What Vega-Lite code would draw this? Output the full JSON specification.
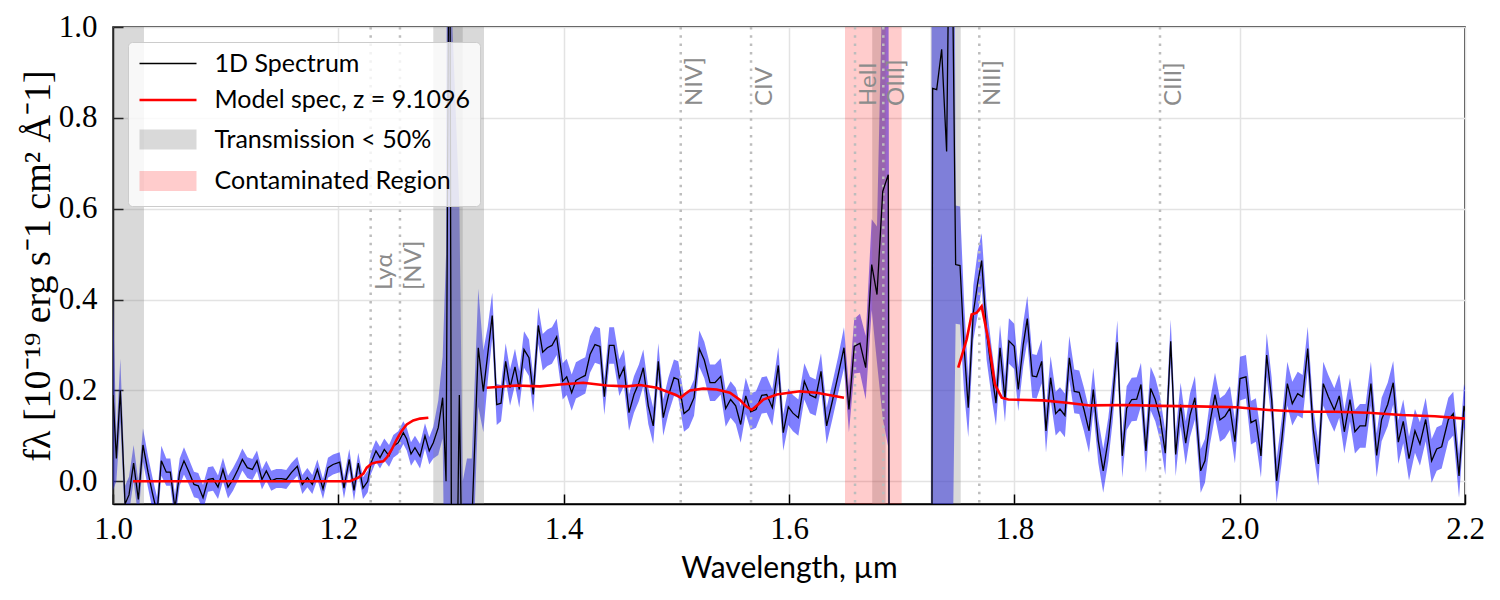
{
  "$schema": "https://vega.github.io/schema/vega-lite/v6.json",
  "width": 1352,
  "height": 477,
  "autosize": {"type": "none"},
  "padding": {"left": 113, "top": 27, "right": 35, "bottom": 96},
  "background": "white",
  "config": {
    "view": {"stroke": "#000000", "strokeWidth": 1.5},
    "axis": {
      "gridColor": "#e3e3e3", "gridWidth": 1.5,
      "domainColor": "#000000", "domainWidth": 1.5,
      "tickColor": "#000000", "tickWidth": 1.5, "tickSize": -10,
      "labelFont": "Liberation Serif", "labelFontSize": 31, "labelColor": "#000000",
      "labelFlush": false, "labelOverlap": false,
      "titleColor": "#000000", "titleFontWeight": "normal"
    },
    "axisX": {"tickCount": 7, "format": ".1f", "labelFont": "Liberation Serif", "labelFontSize": 31, "labelPadding": 20, "titleFont": "Lato", "titleFontSize": 30, "titlePadding": 9},
    "axisY": {"tickCount": 6, "format": ".1f", "labelFont": "Liberation Serif", "labelFontSize": 31, "labelPadding": 26, "titleFont": "Liberation Serif", "titleFontSize": 38, "titlePadding": 1},
    "legend": {
      "orient": "top-left", "offset": 15, "padding": 9,
      "fillColor": "rgba(255,255,255,0.8)", "strokeColor": "#cccccc", "strokeWidth": 1, "cornerRadius": 4,
      "labelFont": "Lato", "labelFontSize": 25, "labelColor": "#000000", "labelLimit": 500,
      "symbolSize": 400, "symbolOffset": 18.5, "labelOffset": 34, "rowPadding": 10.5
    }
  },
  "datasets": {
    "spec": [
      {"w":1.0,"f":0.19,"e":0.21},{"w":1.003,"f":0.05,"e":0.05},{"w":1.0065,"f":0.2,"e":0.07},{"w":1.0107,"f":-0.05,"e":0.04},
      {"w":1.0142,"f":-0.03,"e":0.04},{"w":1.0183,"f":0.04,"e":0.04},{"w":1.0225,"f":-0.04,"e":0.04},{"w":1.0266,"f":0.08,"e":0.037},
      {"w":1.0311,"f":0.02,"e":0.035},{"w":1.0349,"f":-0.025,"e":0.035},{"w":1.0391,"f":-0.07,"e":0.035},{"w":1.0429,"f":0.045,"e":0.033},
      {"w":1.0473,"f":0.02,"e":0.03},{"w":1.0509,"f":0.02,"e":0.03},{"w":1.055,"f":-0.06,"e":0.03},{"w":1.0592,"f":0.02,"e":0.03},
      {"w":1.063,"f":0.045,"e":0.03},{"w":1.0675,"f":0.02,"e":0.028},{"w":1.0719,"f":-0.007,"e":0.028},{"w":1.0757,"f":-0.01,"e":0.028},
      {"w":1.0799,"f":-0.036,"e":0.028},{"w":1.0843,"f":0.004,"e":0.027},{"w":1.0888,"f":0.006,"e":0.027},{"w":1.0932,"f":-0.013,"e":0.026},
      {"w":1.0976,"f":0.026,"e":0.026},{"w":1.1021,"f":-0.013,"e":0.025},{"w":1.1065,"f":0.004,"e":0.025},{"w":1.1109,"f":0.026,"e":0.024},
      {"w":1.1148,"f":0.048,"e":0.024},{"w":1.1192,"f":0.03,"e":0.023},{"w":1.1237,"f":0.026,"e":0.023},{"w":1.1278,"f":0.045,"e":0.023},
      {"w":1.1322,"f":0.004,"e":0.022},{"w":1.1361,"f":0.023,"e":0.022},{"w":1.1405,"f":0.001,"e":0.022},{"w":1.145,"f":0.006,"e":0.021},
      {"w":1.1494,"f":0.006,"e":0.021},{"w":1.1538,"f":0.004,"e":0.021},{"w":1.1583,"f":0.019,"e":0.021},{"w":1.1636,"f":0.033,"e":0.021},
      {"w":1.168,"f":-0.007,"e":0.021},{"w":1.1725,"f":0.008,"e":0.021},{"w":1.1769,"f":-0.007,"e":0.021},{"w":1.1814,"f":0.026,"e":0.022},
      {"w":1.1864,"f":-0.017,"e":0.022},{"w":1.1908,"f":0.03,"e":0.022},{"w":1.1953,"f":0.037,"e":0.022},{"w":1.2012,"f":0.042,"e":0.022},
      {"w":1.205,"f":-0.015,"e":0.023},{"w":1.2097,"f":0.048,"e":0.023},{"w":1.2139,"f":-0.02,"e":0.023},{"w":1.2177,"f":0.04,"e":0.023},
      {"w":1.2219,"f":-0.015,"e":0.024},{"w":1.2261,"f":0.0,"e":0.024},{"w":1.229,"f":0.04,"e":0.024},{"w":1.2334,"f":0.067,"e":0.024},
      {"w":1.237,"f":0.052,"e":0.024},{"w":1.2408,"f":0.07,"e":0.024},{"w":1.245,"f":0.056,"e":0.024},{"w":1.2488,"f":0.077,"e":0.025},
      {"w":1.2532,"f":0.085,"e":0.025},{"w":1.2577,"f":0.107,"e":0.025},{"w":1.2607,"f":0.093,"e":0.025},{"w":1.2645,"f":0.06,"e":0.026},
      {"w":1.268,"f":0.074,"e":0.026},{"w":1.2725,"f":0.055,"e":0.027},{"w":1.2769,"f":0.1,"e":0.028},{"w":1.2807,"f":0.067,"e":0.03},
      {"w":1.2843,"f":0.085,"e":0.035},{"w":1.2887,"f":0.118,"e":0.06},{"w":1.2926,"f":0.184,"e":0.09},{"w":1.2956,"f":0.0,"e":0.5},
      {"w":1.2987,"f":1.5,"e":2},{"w":1.3013,"f":-1.0,"e":2},{"w":1.3074,"f":0.19,"e":0.42},{"w":1.3104,"f":-0.3,"e":0.3},
      {"w":1.3142,"f":-0.25,"e":0.3},{"w":1.3184,"f":-0.1,"e":0.15},{"w":1.3242,"f":0.294,"e":0.13},{"w":1.3287,"f":0.198,"e":0.09},
      {"w":1.3326,"f":0.28,"e":0.06},{"w":1.3366,"f":0.365,"e":0.05},{"w":1.3406,"f":0.169,"e":0.045},{"w":1.3444,"f":0.172,"e":0.04},
      {"w":1.3485,"f":0.264,"e":0.04},{"w":1.3524,"f":0.206,"e":0.04},{"w":1.3568,"f":0.252,"e":0.04},{"w":1.3606,"f":0.202,"e":0.04},
      {"w":1.3648,"f":0.29,"e":0.04},{"w":1.3692,"f":0.272,"e":0.04},{"w":1.373,"f":0.191,"e":0.04},{"w":1.3775,"f":0.343,"e":0.04},
      {"w":1.3814,"f":0.284,"e":0.04},{"w":1.3855,"f":0.294,"e":0.04},{"w":1.3896,"f":0.299,"e":0.04},{"w":1.3938,"f":0.318,"e":0.04},
      {"w":1.3991,"f":0.22,"e":0.04},{"w":1.4027,"f":0.23,"e":0.04},{"w":1.4071,"f":0.195,"e":0.04},{"w":1.4109,"f":0.222,"e":0.04},
      {"w":1.4151,"f":0.228,"e":0.04},{"w":1.4192,"f":0.233,"e":0.04},{"w":1.4234,"f":0.279,"e":0.04},{"w":1.4278,"f":0.301,"e":0.04},
      {"w":1.4322,"f":0.297,"e":0.04},{"w":1.4361,"f":0.186,"e":0.04},{"w":1.4405,"f":0.299,"e":0.04},{"w":1.4447,"f":0.299,"e":0.04},
      {"w":1.4494,"f":0.228,"e":0.04},{"w":1.4535,"f":0.25,"e":0.04},{"w":1.458,"f":0.151,"e":0.04},{"w":1.4624,"f":0.191,"e":0.04},
      {"w":1.4668,"f":0.217,"e":0.04},{"w":1.4707,"f":0.25,"e":0.04},{"w":1.4751,"f":0.166,"e":0.04},{"w":1.4795,"f":0.122,"e":0.04},
      {"w":1.484,"f":0.264,"e":0.04},{"w":1.4884,"f":0.14,"e":0.04},{"w":1.4929,"f":0.188,"e":0.04},{"w":1.4979,"f":0.228,"e":0.04},
      {"w":1.5017,"f":0.224,"e":0.04},{"w":1.5068,"f":0.149,"e":0.04},{"w":1.5112,"f":0.158,"e":0.04},{"w":1.5157,"f":0.184,"e":0.04},
      {"w":1.5204,"f":0.292,"e":0.04},{"w":1.5248,"f":0.267,"e":0.04},{"w":1.5299,"f":0.217,"e":0.04},{"w":1.5343,"f":0.217,"e":0.04},
      {"w":1.5394,"f":0.231,"e":0.04},{"w":1.5438,"f":0.16,"e":0.04},{"w":1.5482,"f":0.18,"e":0.04},{"w":1.5527,"f":0.166,"e":0.04},
      {"w":1.5571,"f":0.125,"e":0.04},{"w":1.5616,"f":0.188,"e":0.04},{"w":1.566,"f":0.153,"e":0.04},{"w":1.5707,"f":0.158,"e":0.04},
      {"w":1.5758,"f":0.189,"e":0.04},{"w":1.5802,"f":0.191,"e":0.04},{"w":1.5852,"f":0.162,"e":0.04},{"w":1.5905,"f":0.255,"e":0.04},
      {"w":1.5949,"f":0.107,"e":0.04},{"w":1.5994,"f":0.164,"e":0.04},{"w":1.6035,"f":0.15,"e":0.04},{"w":1.6083,"f":0.14,"e":0.04},
      {"w":1.6136,"f":0.22,"e":0.04},{"w":1.6186,"f":0.19,"e":0.04},{"w":1.6237,"f":0.184,"e":0.04},{"w":1.6284,"f":0.242,"e":0.04},
      {"w":1.6334,"f":0.122,"e":0.04},{"w":1.6388,"f":0.18,"e":0.04},{"w":1.6437,"f":0.235,"e":0.04},{"w":1.6488,"f":0.294,"e":0.045},
      {"w":1.6532,"f":0.158,"e":0.05},{"w":1.6579,"f":0.297,"e":0.06},{"w":1.663,"f":0.304,"e":0.065},{"w":1.6681,"f":0.25,"e":0.07},
      {"w":1.6734,"f":0.477,"e":0.1},{"w":1.6781,"f":0.411,"e":0.15},{"w":1.6832,"f":0.638,"e":0.5},{"w":1.6881,"f":0.675,"e":0.6},
      {"w":1.6923,"f":-4,"e":1},{"w":1.7,"f":-4,"e":1},{"w":1.71,"f":-4,"e":1},{"w":1.72,"f":-4,"e":1},{"w":1.7245,"f":-4,"e":1},
      {"w":1.7275,"f":0.865,"e":2},{"w":1.7311,"f":0.862,"e":2},{"w":1.7355,"f":0.951,"e":2},{"w":1.7399,"f":0.726,"e":2},
      {"w":1.7435,"f":1.5,"e":2},{"w":1.7479,"f":0.477,"e":0.13},{"w":1.7518,"f":0.475,"e":0.13},{"w":1.7553,"f":0.3,"e":0.1},
      {"w":1.7591,"f":0.162,"e":0.065},{"w":1.7636,"f":0.371,"e":0.06},{"w":1.7675,"f":0.437,"e":0.07},{"w":1.771,"f":0.486,"e":0.06},
      {"w":1.7754,"f":0.327,"e":0.06},{"w":1.7799,"f":0.239,"e":0.055},{"w":1.7837,"f":0.172,"e":0.05},{"w":1.7873,"f":0.294,"e":0.05},
      {"w":1.7917,"f":0.18,"e":0.05},{"w":1.7952,"f":0.309,"e":0.05},{"w":1.7999,"f":0.297,"e":0.05},
      {"w":1.8035,"f":0.202,"e":0.048},{"w":1.8079,"f":0.301,"e":0.048},{"w":1.8115,"f":0.358,"e":0.05},{"w":1.8159,"f":0.232,"e":0.048},
      {"w":1.8198,"f":0.23,"e":0.048},{"w":1.8243,"f":0.264,"e":0.048},{"w":1.8281,"f":0.111,"e":0.048},{"w":1.8322,"f":0.228,"e":0.048},
      {"w":1.8367,"f":0.149,"e":0.048},{"w":1.8405,"f":0.159,"e":0.048},{"w":1.8449,"f":0.145,"e":0.048},{"w":1.8488,"f":0.272,"e":0.048},
      {"w":1.8532,"f":0.198,"e":0.048},{"w":1.8576,"f":0.196,"e":0.048},{"w":1.8618,"f":0.158,"e":0.048},{"w":1.8663,"f":0.111,"e":0.048},
      {"w":1.8701,"f":0.202,"e":0.048},{"w":1.8745,"f":0.089,"e":0.048},{"w":1.8789,"f":0.023,"e":0.048},{"w":1.8834,"f":0.092,"e":0.048},
      {"w":1.8873,"f":0.18,"e":0.048},{"w":1.8914,"f":0.306,"e":0.048},{"w":1.8958,"f":0.056,"e":0.048},{"w":1.8997,"f":0.161,"e":0.048},
      {"w":1.9042,"f":0.18,"e":0.048},{"w":1.9086,"f":0.181,"e":0.048},{"w":1.9124,"f":0.213,"e":0.048},{"w":1.9168,"f":0.067,"e":0.048},
      {"w":1.921,"f":0.204,"e":0.048},{"w":1.9251,"f":0.18,"e":0.048},{"w":1.9293,"f":0.14,"e":0.048},{"w":1.934,"f":0.062,"e":0.048},
      {"w":1.9388,"f":0.308,"e":0.048},{"w":1.9432,"f":0.059,"e":0.048},{"w":1.9476,"f":0.169,"e":0.048},{"w":1.9521,"f":0.084,"e":0.048},
      {"w":1.9559,"f":0.145,"e":0.048},{"w":1.9603,"f":0.184,"e":0.048},{"w":1.9654,"f":0.023,"e":0.048},{"w":1.9692,"f":0.045,"e":0.048},
      {"w":1.9736,"f":0.129,"e":0.048},{"w":1.9781,"f":0.191,"e":0.048},{"w":1.9825,"f":0.135,"e":0.048},{"w":1.9869,"f":0.143,"e":0.048},
      {"w":1.9914,"f":0.161,"e":0.048},{"w":1.9958,"f":0.087,"e":0.048},{"w":2.0003,"f":0.226,"e":0.048},{"w":2.0056,"f":0.23,"e":0.048},
      {"w":2.01,"f":0.129,"e":0.048},{"w":2.0144,"f":0.135,"e":0.048},{"w":2.0189,"f":0.056,"e":0.048},{"w":2.024,"f":0.278,"e":0.048},
      {"w":2.0284,"f":0.18,"e":0.048},{"w":2.0328,"f":0.001,"e":0.048},{"w":2.0373,"f":0.089,"e":0.048},{"w":2.0423,"f":0.215,"e":0.048},
      {"w":2.0467,"f":0.171,"e":0.048},{"w":2.0515,"f":0.193,"e":0.048},{"w":2.0559,"f":0.186,"e":0.048},{"w":2.0604,"f":0.292,"e":0.048},
      {"w":2.0653,"f":0.114,"e":0.048},{"w":2.0698,"f":0.038,"e":0.048},{"w":2.0742,"f":0.215,"e":0.048},{"w":2.0787,"f":0.186,"e":0.048},
      {"w":2.084,"f":0.157,"e":0.048},{"w":2.0884,"f":0.188,"e":0.048},{"w":2.0929,"f":0.109,"e":0.048},{"w":2.0979,"f":0.18,"e":0.048},
      {"w":2.1023,"f":0.109,"e":0.048},{"w":2.1068,"f":0.122,"e":0.048},{"w":2.1118,"f":0.122,"e":0.048},{"w":2.1165,"f":0.215,"e":0.048},
      {"w":2.1216,"f":0.057,"e":0.048},{"w":2.126,"f":0.136,"e":0.048},{"w":2.1314,"f":0.169,"e":0.048},{"w":2.1363,"f":0.217,"e":0.048},
      {"w":2.1408,"f":0.086,"e":0.048},{"w":2.1452,"f":0.132,"e":0.048},{"w":2.1503,"f":0.05,"e":0.048},{"w":2.1556,"f":0.111,"e":0.048},
      {"w":2.16,"f":0.082,"e":0.048},{"w":2.1651,"f":0.136,"e":0.048},{"w":2.1704,"f":0.045,"e":0.048},{"w":2.1749,"f":0.071,"e":0.048},
      {"w":2.1793,"f":0.076,"e":0.048},{"w":2.1852,"f":0.136,"e":0.048},{"w":2.1896,"f":0.149,"e":0.048},{"w":2.1947,"f":0.012,"e":0.048},
      {"w":2.1991,"f":0.166,"e":0.048},{"w":2.204,"f":0.12,"e":0.048}
    ],
    "model": [
      {"w":1.0178,"m":0.0,"s":1},{"w":1.2104,"m":0.0,"s":1},{"w":1.2177,"m":0.008,"s":1},{"w":1.2222,"m":0.017,"s":1},
      {"w":1.2252,"m":0.03,"s":1},{"w":1.2296,"m":0.039,"s":1},{"w":1.234,"m":0.042,"s":1},{"w":1.2399,"m":0.044,"s":1},
      {"w":1.2435,"m":0.054,"s":1},{"w":1.2474,"m":0.07,"s":1},{"w":1.2518,"m":0.092,"s":1},{"w":1.2562,"m":0.111,"s":1},
      {"w":1.2607,"m":0.125,"s":1},{"w":1.2665,"m":0.134,"s":1},{"w":1.2725,"m":0.138,"s":1},{"w":1.2799,"m":0.14,"s":1},
      {"w":1.3317,"m":0.206,"s":2},{"w":1.3583,"m":0.211,"s":2},{"w":1.379,"m":0.209,"s":2},{"w":1.3967,"m":0.213,"s":2},
      {"w":1.4174,"m":0.217,"s":2},{"w":1.4382,"m":0.211,"s":2},{"w":1.4559,"m":0.209,"s":2},{"w":1.4677,"m":0.212,"s":2},
      {"w":1.4826,"m":0.206,"s":2},{"w":1.4944,"m":0.195,"s":2},{"w":1.4997,"m":0.19,"s":2},{"w":1.5038,"m":0.184,"s":2},
      {"w":1.5077,"m":0.192,"s":2},{"w":1.5121,"m":0.2,"s":2},{"w":1.5239,"m":0.204,"s":2},{"w":1.5358,"m":0.202,"s":2},
      {"w":1.5476,"m":0.195,"s":2},{"w":1.5565,"m":0.179,"s":2},{"w":1.562,"m":0.165,"s":2},{"w":1.5669,"m":0.157,"s":2},
      {"w":1.572,"m":0.168,"s":2},{"w":1.5772,"m":0.18,"s":2},{"w":1.5891,"m":0.191,"s":2},{"w":1.6097,"m":0.198,"s":2},
      {"w":1.6246,"m":0.195,"s":2},{"w":1.6488,"m":0.184,"s":2},
      {"w":1.7502,"m":0.25,"s":3},{"w":1.7577,"m":0.312,"s":3},{"w":1.7621,"m":0.367,"s":3},{"w":1.7666,"m":0.371,"s":3},
      {"w":1.771,"m":0.385,"s":3},{"w":1.7769,"m":0.312,"s":3},{"w":1.7828,"m":0.213,"s":3},{"w":1.7888,"m":0.184,"s":3},
      {"w":1.7946,"m":0.18,"s":3},{"w":1.8254,"m":0.178,"s":3},{"w":1.8465,"m":0.173,"s":3},{"w":1.8671,"m":0.167,"s":3},
      {"w":1.8997,"m":0.168,"s":3},{"w":1.9293,"m":0.166,"s":3},{"w":1.9618,"m":0.165,"s":3},{"w":1.9973,"m":0.163,"s":3},
      {"w":2.0254,"m":0.157,"s":3},{"w":2.055,"m":0.153,"s":3},{"w":2.0846,"m":0.153,"s":3},{"w":2.1142,"m":0.151,"s":3},
      {"w":2.1438,"m":0.146,"s":3},{"w":2.1733,"m":0.143,"s":3},{"w":2.2,"m":0.138,"s":3}
    ],
    "bands": [
      {"w":1.0,"w2":1.0275,"kind":"Transmission < 50%"},
      {"w":1.2843,"w2":1.3104,"kind":"Transmission < 50%"},
      {"w":1.2991,"w2":1.3293,"kind":"Transmission < 50%"},
      {"w":1.6739,"w2":1.6858,"kind":"Transmission < 50%"},
      {"w":1.7257,"w2":1.7524,"kind":"Transmission < 50%"},
      {"w":1.6497,"w2":1.7,"kind":"Contaminated Region"}
    ],
    "lines": [
      {"w":1.2287,"name":"Lyα","grp":"low"},
      {"w":1.2547,"name":"[NV]","grp":"low"},
      {"w":1.5039,"name":"NIV]","grp":"high"},
      {"w":1.5663,"name":"CIV","grp":"high"},
      {"w":1.6586,"name":"HeII","grp":"high"},
      {"w":1.6837,"name":"OIII]","grp":"high"},
      {"w":1.7689,"name":"NIII]","grp":"high"},
      {"w":1.9293,"name":"CIII]","grp":"high"}
    ]
  },
  "layer": [
    {
      "data": {"name": "spec"},
      "mark": {"type": "errorband", "color": "#0000ff", "opacity": 0.5, "clip": true},
      "encoding": {
        "x": {"field": "w", "type": "quantitative", "scale": {"domain": [1.0, 2.2], "nice": false, "zero": false}, "title": "Wavelength, µm", "axis": {"labelFont": "Liberation Serif"}},
        "y": {"field": "f", "type": "quantitative", "scale": {"domain": [-0.05, 1.0], "nice": false, "zero": false}, "title": "fλ [10⁻¹⁹ erg s⁻1 cm² Å⁻1]", "axis": {"labelFont": "Liberation Serif"}},
        "yError": {"field": "e"}
      }
    },
    {
      "data": {"name": "bands"},
      "mark": {"type": "rect", "clip": true},
      "encoding": {
        "x": {"field": "w", "type": "quantitative", "scale": {"domain": [1.0, 2.2], "nice": false, "zero": false}, "title": "Wavelength, µm"},
        "x2": {"field": "w2"},
        "color": {
          "field": "kind", "type": "nominal",
          "scale": {"domain": ["1D Spectrum", "Model spec, z = 9.1096", "Transmission < 50%", "Contaminated Region"], "range": ["#000000", "#ff0000", "#808080", "#ff0000"]},
          "legend": {
            "title": null,
            "encode": {
              "symbols": {
                "update": {
                  "shape": {"signal": "(datum.value == 'Transmission < 50%' || datum.value == 'Contaminated Region') ? 'M-2.85,-1H2.85V1H-2.85Z' : 'M-2.85,0H2.85'"},
                  "fill": {"signal": "datum.value == 'Transmission < 50%' ? '#808080' : (datum.value == 'Contaminated Region' ? '#ff0000' : 'transparent')"},
                  "fillOpacity": {"signal": "datum.value == 'Transmission < 50%' ? 0.3 : 0.2"},
                  "stroke": {"signal": "datum.value == '1D Spectrum' ? '#000000' : (datum.value == 'Model spec, z = 9.1096' ? '#ff0000' : 'transparent')"},
                  "strokeWidth": {"signal": "datum.value == '1D Spectrum' ? 1.3 : 2.6"},
                  "strokeOpacity": {"value": 1},
                  "opacity": {"value": 1}
                }
              }
            }
          }
        },
        "fillOpacity": {"condition": {"test": "datum.kind == 'Contaminated Region'", "value": 0.2}, "value": 0.3}
      }
    },
    {
      "data": {"name": "lines"},
      "mark": {"type": "rule", "color": "#bdbdbd", "strokeWidth": 2.5, "strokeDash": [2.5, 5.8]},
      "encoding": {
        "x": {"field": "w", "type": "quantitative", "scale": {"domain": [1.0, 2.2], "nice": false, "zero": false}, "title": "Wavelength, µm"}
      }
    },
    {
      "data": {"name": "lines"},
      "transform": [{"filter": "datum.grp == 'high'"}],
      "mark": {"type": "text", "angle": 270, "align": "left", "baseline": "middle", "dy": 14, "font": "Lato", "fontSize": 24, "color": "#8c8c8c"},
      "encoding": {
        "x": {"field": "w", "type": "quantitative", "scale": {"domain": [1.0, 2.2], "nice": false, "zero": false}, "title": "Wavelength, µm"},
        "y": {"datum": 0.826, "type": "quantitative", "scale": {"domain": [-0.05, 1.0], "nice": false, "zero": false}},
        "text": {"field": "name"}
      }
    },
    {
      "data": {"name": "lines"},
      "transform": [{"filter": "datum.grp == 'low'"}],
      "mark": {"type": "text", "angle": 270, "align": "left", "baseline": "middle", "dy": 14, "font": "Lato", "fontSize": 24, "color": "#8c8c8c"},
      "encoding": {
        "x": {"field": "w", "type": "quantitative", "scale": {"domain": [1.0, 2.2], "nice": false, "zero": false}, "title": "Wavelength, µm"},
        "y": {"datum": 0.421, "type": "quantitative", "scale": {"domain": [-0.05, 1.0], "nice": false, "zero": false}},
        "text": {"field": "name"}
      }
    },
    {
      "data": {"name": "spec"},
      "mark": {"type": "line", "color": "#000000", "strokeWidth": 1.3, "clip": true},
      "encoding": {
        "x": {"field": "w", "type": "quantitative", "scale": {"domain": [1.0, 2.2], "nice": false, "zero": false}, "title": "Wavelength, µm", "axis": {"labelFont": "Liberation Serif"}},
        "y": {"field": "f", "type": "quantitative", "scale": {"domain": [-0.05, 1.0], "nice": false, "zero": false}, "title": "fλ [10⁻¹⁹ erg s⁻1 cm² Å⁻1]", "axis": {"labelFont": "Liberation Serif"}}
      }
    },
    {
      "data": {"name": "model"},
      "mark": {"type": "line", "color": "#ff0000", "strokeWidth": 2.6, "clip": true},
      "encoding": {
        "x": {"field": "w", "type": "quantitative", "scale": {"domain": [1.0, 2.2], "nice": false, "zero": false}, "title": "Wavelength, µm"},
        "y": {"field": "m", "type": "quantitative", "scale": {"domain": [-0.05, 1.0], "nice": false, "zero": false}, "title": "fλ [10⁻¹⁹ erg s⁻1 cm² Å⁻1]"},
        "detail": {"field": "s", "type": "nominal"}
      }
    }
  ]
}
